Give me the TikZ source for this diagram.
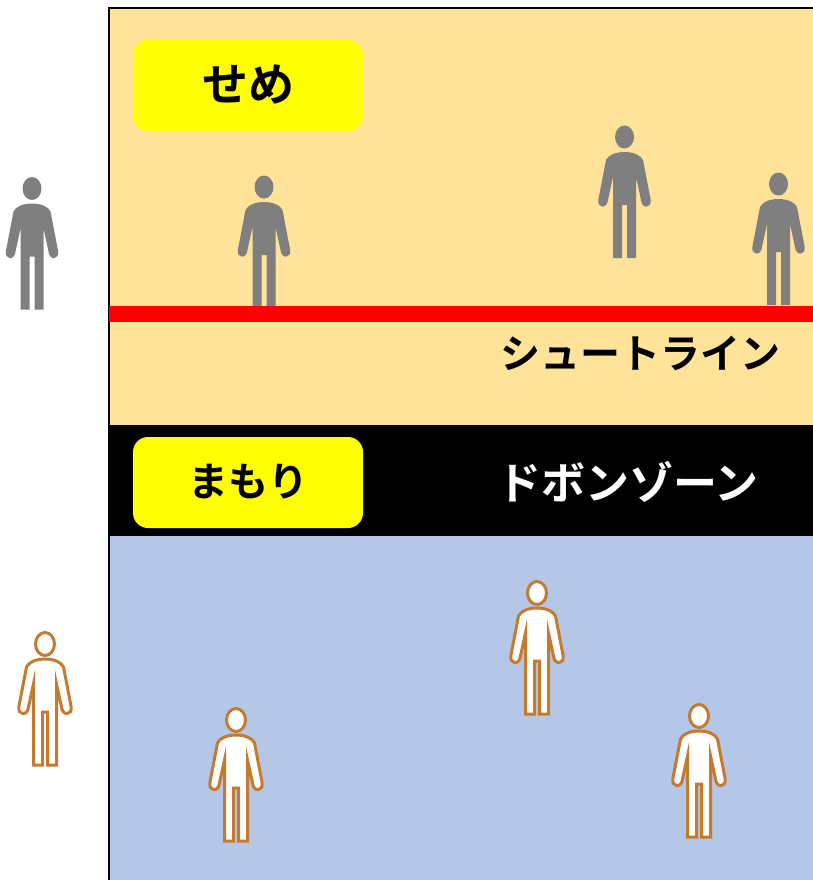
\documentclass[tikz,border=0pt]{standalone}
\usepackage{fontspec}
\usepackage{xcolor}
\newfontfamily\jpfont{Noto Sans CJK JP Bold}
\definecolor{peach}{HTML}{FFE399}
\definecolor{paleblue}{HTML}{B4C7E7}
\definecolor{keeper}{HTML}{C57B2F}
\definecolor{shooter}{HTML}{7F7F7F}
\definecolor{boxyellow}{HTML}{FFFF00}
\tikzset{
  label box/.style={fill=boxyellow, rounded corners=15pt, minimum width=230pt, minimum height=91pt, inner sep=0pt},
  zone text/.style={inner sep=0pt},
  attacker/.style={fill=shooter},
  defender/.style={fill=white, draw=keeper, line width=3pt},
  pics/person/.style={code={
    \path[pic actions] (0,0) ellipse (9.5 and 11.5);
    \path[pic actions] (0,15) .. controls (-9,15) and (-16,18) .. (-18.5,23) -- (-26,62)
      .. controls (-28,72) and (-17,72) .. (-16.5,63) -- (-11.5,40) -- (-11.5,121) -- (-2.5,121) -- (-2.5,68)
      -- (2.5,68) -- (2.5,121) -- (11.5,121) -- (11.5,40) -- (16.5,63)
      .. controls (17,72) and (28,72) .. (26,62) -- (18.5,23) .. controls (16,18) and (9,15) .. (0,15) -- cycle;
  }}
}

\begin{document}
\begin{tikzpicture}[x=1pt, y=-1pt]
  \useasboundingbox (0,0) rectangle (813,880);

  % Draw the three zones of the court
  \fill[peach] (109,8) rectangle (813,425);
  \fill[black] (109,425) rectangle (813,536);
  \fill[paleblue] (109,536) rectangle (813,880);
  \draw[line width=2pt] (109,880) -- (109,8) -- (813,8);

  % Labels
  \node[label box] (attack) at (248,85.5) {\raisebox{5pt}{\jpfont\fontsize{46}{46}\selectfont せめ}};
  \node[label box] (defend) at (248,482.5) {\raisebox{5pt}{\jpfont\fontsize{40}{40}\selectfont まもり}};
  \node[zone text, font=\jpfont\fontsize{40}{40}\selectfont] (shootline) at (640,353) {シュートライン};
  \node[zone text, text=white, font=\jpfont\fontsize{44}{44}\selectfont] (dobonzone) at (628,482) {ドボンゾーン};

  % Gray players
  \pic[attacker] at (32,188.5) {person};
  \pic[attacker] at (264,187) {person};
  \pic[attacker] at (624.5,137) {person};
  \pic[attacker] at (778.5,184) {person};

  % Outlined players
  \pic[defender] at (45,644) {person};
  \pic[defender] at (236,720) {person};
  \pic[defender] at (537,593) {person};
  \pic[defender] at (699,716) {person};

  % Red line across the upper zone
  \fill[red] (109,306) rectangle (813,322);
\end{tikzpicture}
\end{document}
